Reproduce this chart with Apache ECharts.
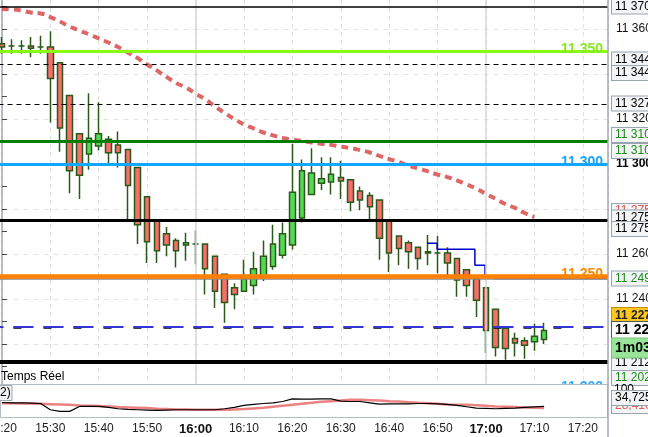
<!DOCTYPE html>
<html><head><meta charset="utf-8">
<script src="https://cdn.jsdelivr.net/npm/echarts@6/dist/echarts.min.js"></script>
<style>html,body{margin:0;padding:0;background:#fff;}#c{width:648px;height:437px;}</style>
</head><body><div id="c"></div>
<script>
// ---------- DATA ----------
const times = ['15:20','15:22','15:24','15:26','15:28','15:30','15:32','15:34','15:36','15:38',
  '15:40','15:42','15:44','15:46','15:48','15:50','15:52','15:54','15:56','15:58',
  '16:00','16:02','16:04','16:06','16:08','16:10','16:12','16:14','16:16','16:18',
  '16:20','16:22','16:24','16:26','16:28','16:30','16:32','16:34','16:36','16:38',
  '16:40','16:42','16:44','16:46','16:48','16:50','16:52','16:54','16:56','16:58',
  '17:00','17:02','17:04','17:06','17:08','17:10','17:12'];
const opens  = [11353.5,11352.5,11352.5,11352.5,11352,11352,11345,11330.5,11313.5,11304.5,
  11308,11311,11308.5,11306.5,11298.5,11285.5,11275,11269,11266,11264,
  11264.5,11264.5,11259,11251,11245,11243.5,11246,11250,11254.5,11259.5,
  11264,11276,11286.5,11291.5,11292,11294,11293,11288,11286,11284,
  11275,11268,11265,11263,11260.5,11260.5,11260.5,11258,11253,11249,
  11245,11235.5,11227,11222.5,11221.5,11221,11222];
const closes = [11352,11352.5,11352.5,11351.5,11352,11338,11316,11297,11295,11311.5,
  11313.5,11305,11305,11290.5,11273,11265.5,11261.5,11264,11261.5,11265,
  11264.5,11253.5,11243.5,11238.5,11242,11249,11253.5,11259,11264.5,11269,
  11287.5,11297,11296,11293.5,11295.5,11292.5,11283,11284,11281,11267,
  11260.5,11262.5,11261,11258,11261,11260.5,11256,11248.5,11246,11239.5,
  11226,11218.5,11218,11220.5,11219.5,11223.5,11226];
const lows   = [11349,11349,11349,11347.5,11349,11318.5,11305.5,11287,11284.5,11297.5,
  11306,11300.5,11298.5,11275.5,11264.5,11256,11256,11259,11254,11257,
  11255.5,11242,11236,11229.5,11235.5,11243.5,11242,11248,11253,11258,
  11262,11274,11286.5,11288.5,11286.5,11284.5,11279,11279.5,11275,11257.5,
  11252,11255,11253.5,11253,11255,11251.5,11250.5,11241,11241,11232,
  11216,11214.5,11213,11214.5,11213.5,11217,11220];
const highs  = [11356.5,11355.5,11355,11356.5,11357,11359,11345,11330.5,11313.5,11331.5,
  11327.5,11312.5,11314.5,11306.5,11298.5,11285.5,11275,11272,11267,11269.5,
  11270.5,11264.5,11259,11251,11247,11257.5,11261,11266,11273,11274,
  11309,11302,11307,11303,11303,11301.5,11293,11290,11287.5,11284,
  11275,11268,11266,11263,11268.5,11268,11263,11258,11253,11249,
  11245,11235.5,11227,11225,11223,11229,11229.5];
const movingAvg = [11368.9,11368.7,11368.2,11367.3,11366.9,11365.3,11363.3,11361.1,11359.3,11357.6,
  11355.8,11354.0,11352.0,11349.6,11347.1,11344.2,11341.6,11338.7,11336.0,11334.0,
  11331.3,11328.7,11325.6,11322.7,11320.0,11317.6,11315.8,11314.0,11312.7,11311.6,
  11310.9,11310.2,11309.6,11309.0,11308.5,11307.7,11307.1,11306.2,11305.1,11303.6,
  11302.2,11300.9,11299.3,11298.0,11296.7,11295.3,11294.2,11292.7,11290.9,11289.1,
  11286.7,11284.5,11282.2,11280.5,11278.2,11276.5,null];
const oscFast = [47,46,46,45,44,25,20,20,35,35,35,32,28,26,25,24,23,24,25,25,
  25,25,25,28,32,38,41,44,46,50,58,57,57,58,58,51,50,50,46,42,
  43,43,43,44,44,43,41,38,34,30,29,28,29,30,32,34,35];
const oscSlow = [45,45,44,44,43,42,41,40,38,37,36,35,33,32,31,30,28,27,26,26,
  25,25,25,25,26,27,29,31,34,37,40,43,46,49,51,53,55,55,54,53,
  51,50,48,46,45,43,41,40,40,39,37,35,34,33,32,31,30];
// trailing stop steps (time, price)
const stopTimes  = ['16:47:48','16:49:54','16:57:42','16:59:48'];
const stopPrices = [11264.8,11262.1,11255.0,11250.0];
const stopLevelStart = '17:01:42';
const stopLevel = 11249.3;
// horizontal levels
const levelBlack = [11370, 11275, 11212];
const levelDashed = [11344.4, 11326.7];
const levelLime = 11350, levelGreen = 11310, levelBlue = 11300, levelOrange = 11250, levelGray = 11249, levelSky = 11200;
const levelCursor = 11227.6;
const bigLabels = ['11 350','11 300','11 250','11 200'];
// right axis tags: [price, text]
const tagPrices = [11370, 11346.4, 11340.4, 11326.9, 11312.9, 11305.8, 11279.1, 11276.2, 11271.1, 11249.1, 11232.4, 11211.6, 11226.2, 11218.2, 11204.9];
const tagTexts  = ['11 370','11 344','11 344','11 327','11 310','11 310','11 275','11 275','11 275','11 249','11 227','11 212','11 220','1m03s','11 202'];
const tagKinds  = ['n','n','n','n','g','g','r','n','n','g','y','n','b','t','g'];
const oscLevels = [70, 50, 30];
const oscTagValues = [84.8, 60.6, 36.4];
const oscTagTexts = ['100','34,725','28,410'];
const yTickLabels = ['11 360','11 320','11 300','11 260','11 240'];
const xTickLabels = ['15:10','15:20','15:30','15:40','15:50','16:00','16:10','16:20','16:30','16:40','16:50','17:00','17:10','17:20'];

// ---------- BUILD ----------
const FONT = '"Liberation Sans", Arial, sans-serif';
function tmin(s){const p=s.split(':').map(Number);return p[0]*60+p[1]+(p[2]||0)/60-(15*60+20);}
const xs = times.map(tmin);
const candleData = times.map((t,i)=>[xs[i],opens[i],closes[i],lows[i],highs[i]]);
const maData = times.map((t,i)=>[xs[i],movingAvg[i]]);
const fastData = times.map((t,i)=>[xs[i],oscFast[i]]);
const slowData = times.map((t,i)=>[xs[i],oscSlow[i]]);
const stopData = stopTimes.map((t,i)=>[tmin(t),stopPrices[i]]);
const XMIN=-10, XMAX=125.2;
const PXPT = 2.25; // px per point on price axis (for label nudges)
const fmtP = v => String(v).replace(/^(\d{2})(\d{3})$/,'$1 $2');

function hline(v, color, width, type){return {yAxis:v, lineStyle:{color, width, type: type||'solid', opacity:1}, label:{show:false}};}
function bigLabel(v, text, color){
  return {yAxis: v + 2/PXPT, lineStyle:{color:'rgba(0,0,0,0)', width:0},
    label:{show:true, position:'insideEnd', distance:5, formatter:text, color, fontSize:14, fontWeight:'bold', fontFamily:FONT, opacity:1}};
}
const tagStyles = {
  n:{color:'#000', bg:'#f3f4f5', bd:'#9aa4ae', fs:12, fw:'normal', pad:[1,40,0,3]},
  g:{color:'#1a8a1a', bg:'#f3f4f5', bd:'#9aa4ae', fs:12, fw:'normal', pad:[1,40,0,3]},
  r:{color:'#e05050', bg:'#f3f4f5', bd:'#9aa4ae', fs:12, fw:'normal', pad:[1,40,0,3]},
  y:{color:'#222', bg:'#ffc820', bd:'#c09000', fs:12, fw:'bold', pad:[2,40,1,3]},
  b:{color:'#000', bg:'#fbfbfb', bd:'#555', fs:14, fw:'bold', pad:[1,40,0,3]},
  t:{color:'#000', bg:'#98e498', bd:'#7cc07c', fs:14, fw:'bold', pad:[2,40,2,3]}
};
const tagLines = tagPrices.map((p,i)=>{const s=tagStyles[tagKinds[i]];return {yAxis:p, lineStyle:{color:'rgba(0,0,0,0)',width:0},
  label:{show:true, position:'end', distance:4, formatter:tagTexts[i], color:s.color, fontSize:s.fs, fontWeight:s.fw, fontFamily:FONT,
    backgroundColor:s.bg, borderColor:s.bd, borderWidth:1, padding:s.pad, lineHeight:s.fs+1, opacity:1}};});

const vlines2 = [];
for(let m=XMIN;m<=120;m+=10){vlines2.push({xAxis:m, lineStyle:{color:(m%60===40)?'#d5d9dd':'#e0e0e0', width:(m%60===40)?1.5:1, type:(m%60===40)?'solid':[4,4]}});}

const chart = echarts.init(document.getElementById('c'), null, {renderer:'canvas'});
chart.setOption({
  animation:false,
  backgroundColor:'#fff',
  textStyle:{fontFamily:FONT},
  grid:[
    {left:-46.5, right:40, top:-16, height:405, outerBoundsMode:'none', containLabel:false},
    {left:-46.5, right:40, top:385, height:33, outerBoundsMode:'none', containLabel:false}
  ],
  xAxis:[
    {type:'value', gridIndex:0, min:XMIN, max:XMAX, interval:10, axisLine:{show:false}, axisTick:{show:false}, axisLabel:{show:false},
     splitLine:{show:true, lineStyle:{color:'#e0e0e0', type:[4,4], width:1}}},
    {type:'value', gridIndex:1, min:XMIN, max:XMAX, interval:10, axisLine:{show:false}, axisTick:{show:false}, splitLine:{show:false},
     axisLabel:{show:true, margin:5, fontSize:12, color:'#222', fontFamily:FONT,
       formatter:v=>{const s=xTickLabels[Math.round((v-XMIN)/10)]||''; return /:00$/.test(s)?'{b|'+s+'}':s;},
       rich:{b:{fontWeight:'bold', fontSize:13, color:'#111', fontFamily:FONT}}}}
  ],
  yAxis:[
    {type:'value', gridIndex:0, position:'right', min:11200, max:11380, interval:20,
     axisLine:{show:true, lineStyle:{color:'#a0a8b0', width:1.5}}, axisTick:{show:true, inside:false, length:5, lineStyle:{color:'#444', width:1}},
     minorTick:{show:true, splitNumber:2, length:5, lineStyle:{color:'#444', width:1}},
     axisLabel:{show:true, margin:8, fontSize:12, color:'#111', fontFamily:FONT,
       formatter:v=>{const s=fmtP(v); if(!yTickLabels.includes(s)) return ''; return s==='11 300'?'{b|'+s+'}':s;},
       rich:{b:{fontWeight:'bold', fontSize:12, color:'#000', fontFamily:FONT}}},
     splitLine:{show:true, lineStyle:{color:'#e2e2e2', type:[5,5]}}},
    {type:'value', gridIndex:1, position:'right', min:0, max:100, axisLine:{show:false}, axisTick:{show:false}, axisLabel:{show:false}, splitLine:{show:false}}
  ],
  graphic:[
    {type:'rect', shape:{x:0.5, y:384.5, width:607, height:33}, style:{fill:'#fff', stroke:'#b4bcc4', lineWidth:1}, z:10, silent:true},
    {type:'line', shape:{x1:608, y1:0, x2:608, y2:437}, style:{stroke:'#a0a8b0', lineWidth:1.5}, z:30, silent:true},
    {type:'text', left:1, top:371, style:{text:'Temps Réel', font:'12px '+FONT, fill:'#000'}, z:12, silent:true},
    {type:'rect', shape:{x:-3, y:385.5, width:15, height:15}, style:{fill:'#eef0f2', stroke:'#a0a8b0', lineWidth:1}, z:25, silent:true},
    {type:'text', left:0, top:387, style:{text:'2)', font:'12px '+FONT, fill:'#000'}, z:26, silent:true}
  ],
  series:[
    {type:'line', xAxisIndex:0, yAxisIndex:0, data:[], z:1, silent:true,
     markLine:{silent:true, symbol:['none','none'], animation:false, label:{show:false},
       data:[{xAxis:40, lineStyle:{color:'#d5d9dd', width:1.5, type:'solid'}},{xAxis:100, lineStyle:{color:'#d5d9dd', width:1.5, type:'solid'}}]}},
    {type:'candlestick', xAxisIndex:0, yAxisIndex:0, data:candleData, encode:{x:0, y:[1,2,3,4]}, barWidth:6, z:2,
     itemStyle:{color:'#55d855', color0:'#fa6d6d', borderColor:'#2b5a18', borderColor0:'#2b5a18', borderWidth:1.5}},
    {type:'line', xAxisIndex:0, yAxisIndex:0, data:[], z:3, silent:true,
     markLine:{silent:true, symbol:['none','none'], animation:false,
       data:[
         hline(levelBlack[0], '#000', 1.5),
         hline(levelLime, '#88ff11', 3),
         hline(levelDashed[0], '#000', 1.2, [5,4]),
         hline(levelDashed[1], '#000', 1.2, [5,4]),
         hline(levelGreen, '#007f00', 3),
         hline(levelBlue, '#10a8ff', 3),
         hline(levelBlack[1], '#000', 3),
         hline(levelGray, '#8a8a8a', 1.5),
         hline(levelOrange, '#ff8000', 4.5),
         hline(levelCursor, '#000', 2.5, [8,22]),
         hline(levelCursor, '#3535d5', 2, [20,10]),
         hline(levelBlack[2], '#000', 4),
         hline(levelSky, '#33aaff', 3),
         bigLabel(levelLime, bigLabels[0], '#8ae822'),
         bigLabel(levelBlue, bigLabels[1], '#18a4ff'),
         bigLabel(levelOrange, bigLabels[2], '#ff8a00'),
         bigLabel(levelSky, bigLabels[3], '#33aaff')
       ]}},
    {type:'line', xAxisIndex:0, yAxisIndex:0, data:stopData, step:'end', symbol:'none', z:3, silent:true,
     lineStyle:{color:'#0000cc', width:1.5}},
    {type:'line', xAxisIndex:0, yAxisIndex:0, data:[[tmin(stopLevelStart),stopLevel],[XMAX,stopLevel]], symbol:'none', z:3, silent:true,
     lineStyle:{color:'#1010e0', width:2.5}},
    {type:'line', xAxisIndex:0, yAxisIndex:0, data:maData, symbol:'none', z:4, silent:true, smooth:true,
     lineStyle:{color:'#dd6666', width:4, type:[7,5]}},
    {type:'line', xAxisIndex:0, yAxisIndex:0, data:[], z:5, silent:true,
     markLine:{silent:true, symbol:['none','none'], animation:false, data:tagLines}},
    {type:'line', xAxisIndex:1, yAxisIndex:1, data:[], z:15, silent:true,
     markLine:{silent:true, symbol:['none','none'], animation:false, label:{show:false}, data:vlines2}},
    {type:'line', xAxisIndex:1, yAxisIndex:1, data:[], z:16, silent:true,
     markLine:{silent:true, symbol:['none','none'], animation:false, label:{show:false},
       data:[
         {yAxis:oscLevels[0], lineStyle:{color:'#2828b0', width:1.3, type:'solid'}},
         {yAxis:oscLevels[1], lineStyle:{color:'#3030d8', width:3, type:'solid'}},
         {yAxis:oscLevels[2], lineStyle:{color:'#2828b0', width:1.3, type:'solid'}}
       ]}},
    {type:'line', xAxisIndex:1, yAxisIndex:1, data:slowData, symbol:'none', z:17, silent:true,
     lineStyle:{color:'#e87474', width:2.5, opacity:0.9}},
    {type:'line', xAxisIndex:1, yAxisIndex:1, data:fastData, symbol:'none', z:18, silent:true,
     lineStyle:{color:'#000', width:1.2}},
    {type:'line', xAxisIndex:1, yAxisIndex:1, data:[], z:31, silent:true,
     markLine:{silent:true, symbol:['none','none'], animation:false,
       data:[
         {yAxis:oscTagValues[0], lineStyle:{color:'rgba(0,0,0,0)', width:0}, label:{show:true, position:'end', distance:6, formatter:oscTagTexts[0], color:'#000', fontSize:12, fontFamily:FONT, opacity:1}},
         {yAxis:oscTagValues[2], lineStyle:{color:'rgba(0,0,0,0)', width:0}, label:{show:true, position:'end', distance:4, formatter:oscTagTexts[2], color:'#e06060', fontSize:12, fontFamily:FONT, backgroundColor:'#f3f4f5', borderColor:'#9aa4ae', borderWidth:1, padding:[1,40,0,3], lineHeight:13, opacity:1}},
         {yAxis:oscTagValues[1], lineStyle:{color:'rgba(0,0,0,0)', width:0}, label:{show:true, position:'end', distance:4, formatter:oscTagTexts[1], color:'#000', fontSize:12, fontFamily:FONT, backgroundColor:'#f3f4f5', borderColor:'#9aa4ae', borderWidth:1, padding:[1,40,0,3], lineHeight:13, opacity:1}}
       ]}}
  ]
});
</script></body></html>
